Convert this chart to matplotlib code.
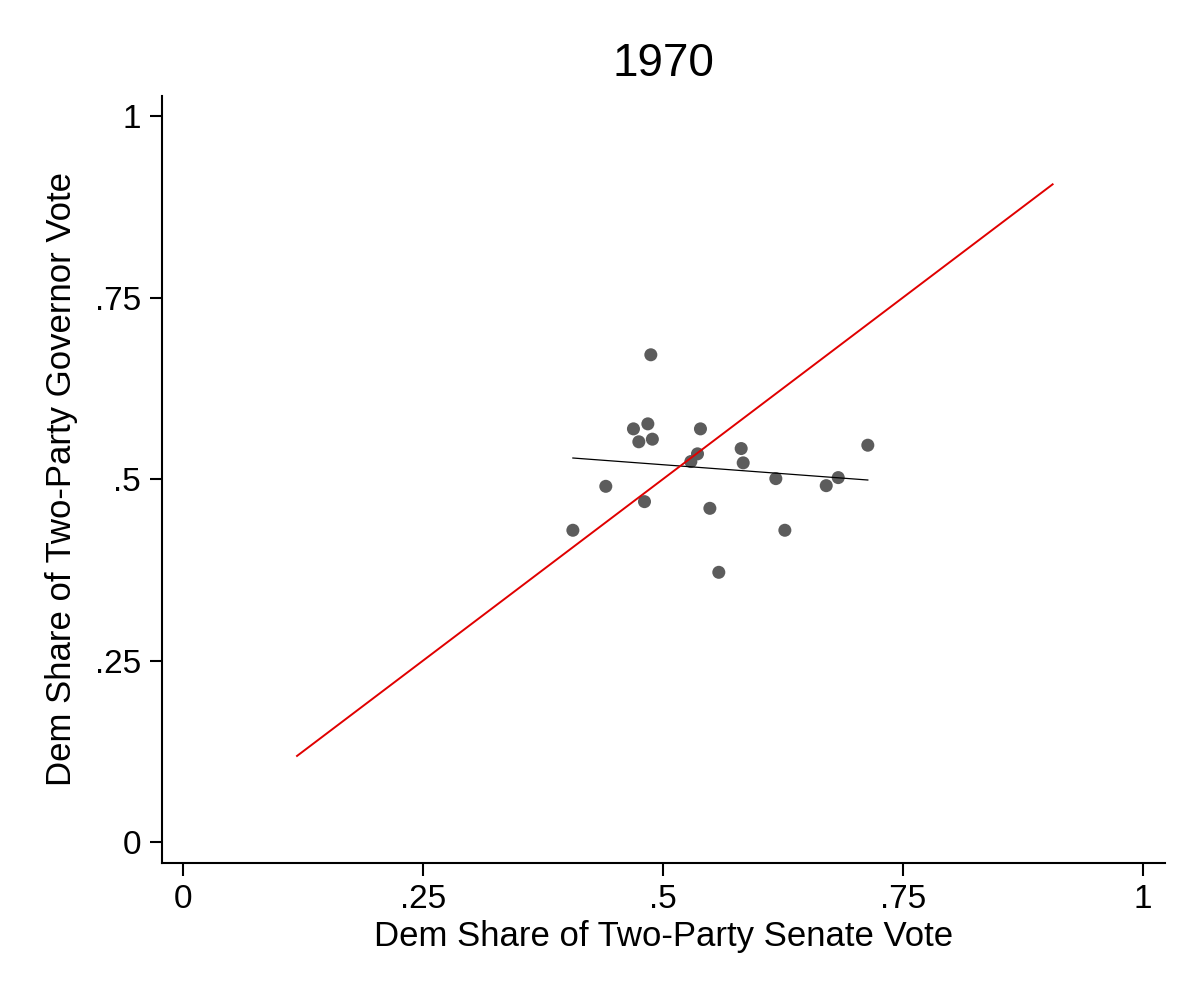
import numpy as np
import matplotlib
matplotlib.use('Agg')
import matplotlib.pyplot as plt

plt.rcParams['font.family'] = ['Liberation Sans', 'DejaVu Sans']

# dem share of two-party vote by state, 1970
senate_share = [0.4875, 0.4694, 0.4844, 0.4750, 0.4891, 0.5392, 0.5361,
                0.5292, 0.5816, 0.5837, 0.7135, 0.6177, 0.6827, 0.6702,
                0.4406, 0.4809, 0.5490, 0.4063, 0.6271, 0.5583]
governor_share = [0.6713, 0.5693, 0.5762, 0.5515, 0.5551, 0.5693, 0.5349,
                  0.5243, 0.5422, 0.5225, 0.5468, 0.5008, 0.5022, 0.4911,
                  0.4902, 0.4691, 0.4599, 0.4297, 0.4297, 0.3718]

# 45 degree reference line (range over all years)
diag_range = [0.119, 0.906]

ticks = [0, 0.25, 0.5, 0.75, 1]
tick_labels = ['0', '.25', '.5', '.75', '1']

x = np.array(senate_share)
y = np.array(governor_share)

fig = plt.figure(figsize=(12, 10), dpi=100)
ax = fig.add_axes([0.1348, 0.1373, 0.9708 - 0.1348, 0.9043 - 0.1373])

ax.scatter(x, y, s=88, color='#5c5c5c', edgecolors='none', zorder=3)

slope, intercept = np.polyfit(x, y, 1)
xs = np.array([x.min(), x.max()])
ax.plot(xs, intercept + slope * xs, color='black', lw=0.9, zorder=4)

ax.plot(diag_range, diag_range, color='#e00000', lw=1.4, zorder=5)

ax.set_xlim(-0.0219, 1.023)
ax.set_ylim(-0.028, 1.028)
ax.set_xticks(ticks)
ax.set_xticklabels(tick_labels)
ax.set_yticks(ticks)
ax.set_yticklabels(tick_labels)

for side in ['top', 'right']:
    ax.spines[side].set_visible(False)
for side in ['left', 'bottom']:
    ax.spines[side].set_linewidth(1.5)

ax.tick_params(axis='both', direction='out', length=9, width=1.5,
               labelsize=24, pad=6)

ax.set_title('1970', fontsize=33, pad=14)
ax.set_xlabel('Dem Share of Two-Party Senate Vote', fontsize=25, labelpad=4)
ax.set_ylabel('Dem Share of Two-Party Governor Vote', fontsize=25, labelpad=12)

plt.savefig('out.png', dpi=100)
